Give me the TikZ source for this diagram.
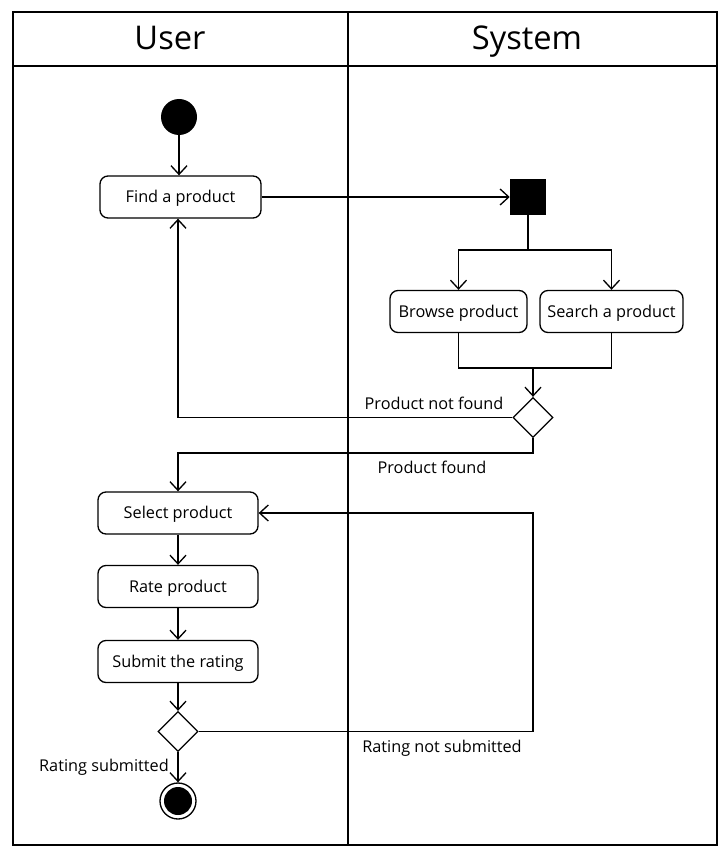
\documentclass[tikz,border=0pt]{standalone}
\usepackage{fontspec}
\setmainfont{Open Sans}
\usetikzlibrary{arrows.meta,shapes.geometric}
\begin{document}
\begin{tikzpicture}[x=0.75pt,y=-0.75pt,
  act/.style={draw,rounded corners=6pt,line width=1pt,minimum height=31.5pt,inner sep=0pt,text height=10.7pt,text depth=2pt,font=\fontsize{12.2}{14}\selectfont},
  flow/.style={line width=1pt,-{Straight Barb[length=6.5pt,width=12pt,line width=1pt]}},
  plain/.style={line width=1pt},
  dec/.style={draw,diamond,line width=1pt,minimum size=30pt,aspect=1,inner sep=0pt},
  lbl/.style={font=\fontsize{12.2}{14}\selectfont,inner sep=0pt,text height=10.7pt,text depth=2pt},
  hdr/.style={font=\fontsize{24.5}{28}\selectfont,inner sep=0pt,anchor=base}]
\useasboundingbox (0,0) rectangle (723,859);
% swimlanes
\draw[line width=2.2pt] (13,12) rectangle (717,845);
\draw[line width=2pt] (13,66) -- (717,66);
\draw[line width=1.8pt] (348,12) -- (348,845);
\node[hdr] (huser) at (170,50) {User};
\node[hdr] (hsys) at (527,50) {System};
% nodes
\node[circle,fill=black,minimum size=27pt,inner sep=0pt] (start) at (179,117) {};
\node[act,minimum width=120.75pt] (find) at (180.5,197) {Find a product};
\node[fill=black,minimum size=27pt,inner sep=0pt] (sq) at (528,197) {};
\node[act,minimum width=102.75pt] (browse) at (458.5,311.5) {Browse product};
\node[act,minimum width=107.25pt] (search) at (611.5,311.5) {Search a product};
\node[dec] (d1) at (533,417.5) {};
\node[act,minimum width=120pt] (select) at (178,513) {Select product};
\node[act,minimum width=120pt] (rate) at (178,586.5) {Rate product};
\node[act,minimum width=120pt] (submit) at (178,661.5) {Submit the rating};
\node[dec] (d2) at (178,731.5) {};
\node[circle,draw,line width=1pt,minimum size=27pt,inner sep=0pt,
  path picture={\fill (path picture bounding box.center) circle (10.5pt);}] (end) at (178,801) {};
% coordinates
\coordinate (fk) at (528,250);
\coordinate (jn) at (533,368);
\coordinate (pf) at (533,453);
\coordinate (rn) at (533,731.5);
% connectors
\draw[flow] (start) -- (start |- find.north);
\draw[flow] (find.east) -- (sq.west);
\draw[plain] (sq.south) -- (fk);
\draw[flow] (fk) -| (browse.north);
\draw[flow] (fk) -| (search.north);
\draw[plain] (browse.south) |- (jn) -| (search.south);
\draw[flow] (jn) -- (d1.north);
\draw[flow] (d1.west) -| (find.south -| select.north);
\draw[flow] (d1.south) -- (pf) -| (select.north);
\draw[flow] (select) -- (rate);
\draw[flow] (rate) -- (submit);
\draw[flow] (submit) -- (d2.north);
\draw[flow] (d2.east) -- (rn) |- (select.east);
\draw[flow] (d2.south) -- (end.north);
% labels
\node[lbl] (lnf) at (434,404) {Product not found};
\node[lbl] (lpf) at (432,468) {Product found};
\node[lbl] (lrn) at (442,747) {Rating not submitted};
\node[lbl] (lrs) at (104,766) {Rating submitted};
\end{tikzpicture}
\end{document}
